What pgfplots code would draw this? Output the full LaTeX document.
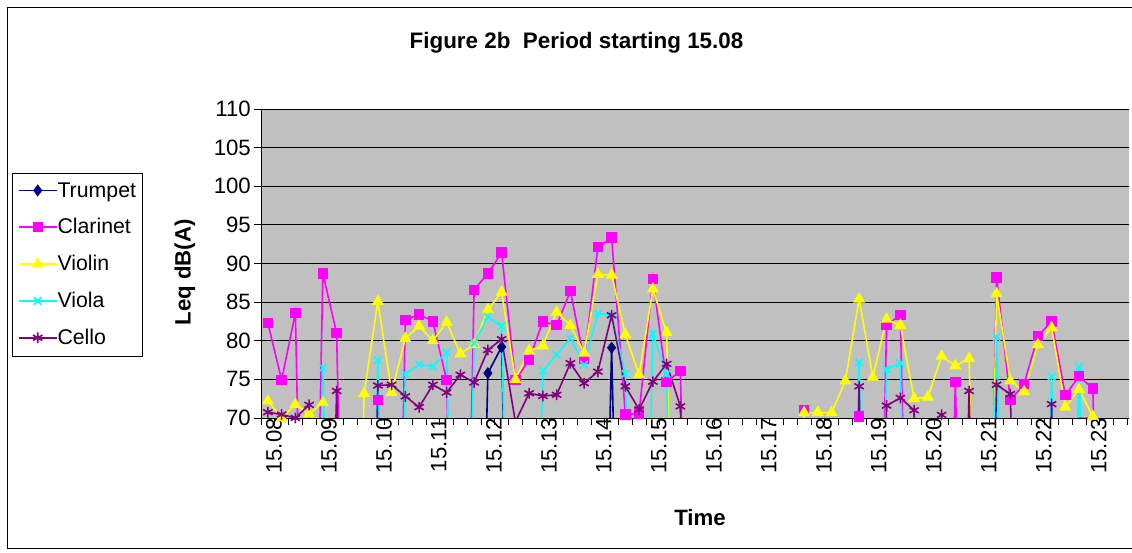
\documentclass[border=0pt]{standalone}
\usepackage{fontspec}
\setmainfont{Liberation Sans}
\usepackage{pgfplots}
\usepackage{pgfplotstable}
\pgfplotsset{compat=1.18}
\definecolor{trumpet}{RGB}{0,0,128}
\definecolor{clarinet}{RGB}{255,0,255}
\definecolor{violin}{RGB}{255,255,0}
\definecolor{viola}{RGB}{0,255,255}
\definecolor{cello}{RGB}{128,0,128}
\definecolor{plotgray}{RGB}{192,192,192}

\pgfplotstableread{
i tr cl vn va ce
0 0 82.3 72.2 0 70.75
1 0 74.9 70.0 0 70.45
2 0 83.6 71.75 0 70.0
3 0 0 70.5 0 71.7
4 0 88.7 72.0 76.5 0
5 0 81.0 0 0 73.5
6 0 0 0 0 0
7 0 0 73.2 0 0
8 0 72.3 85.1 77.5 74.2
9 0 0 73.3 0 74.3
10 0 82.7 80.3 75.7 72.8
11 0 83.4 81.9 76.9 71.4
12 0 82.5 80.0 76.65 74.3
13 0 74.9 82.4 78.5 73.3
14 0 0 78.3 0 75.6
15 0 86.6 79.5 79.7 74.6
16 75.8 88.7 84.0 83.1 78.8
17 79.2 91.4 86.3 81.9 80.2
18 0 74.9 75.0 0 69.5
19 0 77.5 78.7 0 73.2
20 0 82.5 79.35 76.1 72.85
21 0 82.0 83.7 78.2 73.0
22 0 86.4 82.0 80.3 77.1
23 0 77.6 78.4 76.9 74.5
24 0 92.1 88.6 83.5 76.0
25 79.1 93.35 88.5 83.3 83.3
26 0 70.45 80.8 75.7 74.1
27 0 70.6 75.6 0 71.1
28 0 88.0 86.7 80.9 74.7
29 0 74.65 81.05 75.7 77.0
30 0 76.1 0 0 71.5
31 0 0 0 0 0
32 0 0 0 0 0
33 0 0 0 0 0
34 0 0 0 0 0
35 0 0 0 0 0
36 0 0 0 0 0
37 0 0 0 0 0
38 0 0 0 0 0
39 0 71.0 70.7 0 0
40 0 0 70.7 0 0
41 0 0 70.7 0 0
42 0 0 74.8 0 0
43 0 70.2 85.4 77.2 74.1
44 0 0 75.3 0 0
45 0 82.0 82.8 76.3 71.6
46 0 83.35 82.0 77.1 72.6
47 0 0 72.5 0 71.0
48 0 0 72.7 0 0
49 0 0 78.0 0 70.4
50 0 74.65 76.75 0 0
51 0 0 77.7 0 73.5
52 0 0 0 0 0
53 0 88.2 86.1 80.5 74.3
54 0 72.3 74.8 0 73.1
55 0 74.4 73.4 0 0
56 0 80.6 79.5 0 0
57 0 82.5 81.7 75.35 71.8
58 0 72.95 71.4 0 0
59 0 75.4 73.7 76.6 69.95
60 0 73.8 70.2 0 69.95
61 0 0 0 0 0
62 0 0 0 0 0
}\data

\begin{document}
\begin{tikzpicture}[x=1pt,y=1pt]
\useasboundingbox (0,0) rectangle (1132,553);
\draw[black, line width=1pt] (7,4) rectangle (1200,545);
\node[font=\bfseries\fontsize{22.4}{25}\selectfont] at (576.5,510) {Figure 2b\ \ Period starting 15.08};
\begin{axis}[
  at={(261pt,135pt)}, anchor=south west,
  scale only axis, width=868pt, height=309pt,
  xmin=-0.5, xmax=62.63, ymin=70, ymax=110,
  axis background/.style={fill=plotgray},
  axis x line*=bottom, axis y line*=left,
  axis line style={black, line width=0.9pt},
  xtick={-0.5,0.5,...,62.5}, xticklabels={},
  extra x ticks={0,4,...,60},
  extra x tick labels={15.08,15.09,15.10,15.11,15.12,15.13,15.14,15.15,15.16,15.17,15.18,15.19,15.20,15.21,15.22,15.23},
  extra x tick style={major tick length=0pt, tick label style={rotate=90, anchor=east, inner sep=0pt, yshift=-6pt}},
  ytick={70,75,...,110},
  ymajorgrids, grid style={black, line width=0.8pt},
  tick align=outside, major tick length=7pt,
  tick style={black, line width=0.8pt},
  tick label style={font=\fontsize{22.2}{25}\selectfont},
  /pgf/number format/assume math mode=true,
  yticklabel style={anchor=east, inner sep=0pt, xshift=-3pt},
  xlabel={\textbf{Time}},
  xlabel style={at={(axis description cs:0.5058,-0.3236)}, anchor=center, font=\bfseries\fontsize{22.2}{25}\selectfont},
  ylabel={\textbf{Leq dB(A)}},
  ylabel style={at={(axis description cs:-0.0876,0.471)}, anchor=center, font=\bfseries\fontsize{22.2}{25}\selectfont},
  legend style={at={(axis description cs:-0.2872,0.7939)}, anchor=north west, draw=black, fill=white,
    font=\fontsize{21.3}{24}\selectfont, inner xsep=6pt, inner ysep=9.5pt, row sep=20pt,
    nodes={inner sep=0pt}},
  legend cell align=left,
  legend image code/.code={\draw[mark repeat=2,mark phase=2] plot coordinates {(0pt,0pt) (19pt,0pt) (38pt,0pt)};},
  every axis plot/.append style={line width=1.6pt},
]
\addplot[color=trumpet, mark=diamond*, mark size=4.8pt, mark options={fill=trumpet}] table[x=i,y=tr] {\data};
\addplot[color=clarinet, mark=square*, mark size=4.4pt, mark options={fill=clarinet}] table[x=i,y=cl] {\data};
\addplot[color=violin, mark=triangle*, mark size=5.4pt, mark options={fill=violin}] table[x=i,y=vn] {\data};
\addplot[color=viola, mark=x, mark size=5.2pt] table[x=i,y=va] {\data};
\addplot[color=cello, mark=asterisk, mark size=5.4pt] table[x=i,y=ce] {\data};
\legend{Trumpet,Clarinet,Violin,Viola,Cello}
\end{axis}
\end{tikzpicture}
\end{document}
